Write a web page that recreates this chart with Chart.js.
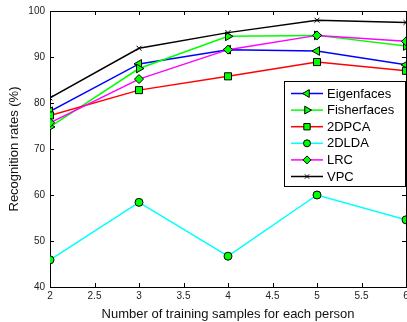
<!DOCTYPE html>
<html>
<head>
<meta charset="utf-8">
<script src="https://cdn.jsdelivr.net/npm/chart.js@4.4.0/dist/chart.umd.min.js"></script>
<style>
html, body { margin:0; padding:0; background:#fff; overflow:hidden; }
#wrap { position:relative; width:412px; height:322px; }
</style>
</head>
<body>
<div id="wrap"><canvas id="chart" width="412" height="322"></canvas></div>
<script>
// training samples per person
var samples = [2, 3, 4, 5, 6]

var eigenfaces = [78.2, 88.5, 91.6, 91.3, 88.3]
var fisherfaces = [74.8, 87.5, 94.5, 94.7, 92.4]
var dpca = [77.3, 82.8, 85.8, 88.9, 87.0]
var dlda = [45.9, 58.4, 46.7, 60.0, 54.6]
var lrc = [75.7, 85.2, 91.6, 94.7, 93.4]
var vpc = [81.1, 91.9, 95.3, 98.0, 97.5]

var xTicks = [2, 2.5, 3, 3.5, 4, 4.5, 5, 5.5, 6]
var yTicks = [40, 50, 60, 70, 80, 90, 100]

function pts(vals) {
    return vals.map((v, i) => ({ x: samples[i], y: v }))
}

function series(label, vals, color, style, rot, r) {
    return {
        label: label,
        data: pts(vals),
        borderColor: color,
        borderWidth: 1.5,
        pointStyle: style,
        rotation: rot,
        pointRadius: r,
        pointBackgroundColor: style == 'crossRot' ? '#000' : '#00ff00',
        pointBorderColor: '#000',
        pointBorderWidth: 1,
        tension: 0
    }
}

var datasets = [
    series('Eigenfaces', eigenfaces, '#0000ff', 'triangle', 270, 5),
    series('Fisherfaces', fisherfaces, '#00ff00', 'triangle', 90, 5),
    series('2DPCA', dpca, '#ff0000', 'rect', 0, 5),
    series('2DLDA', dlda, '#00ffff', 'circle', 0, 4),
    series('LRC', lrc, '#ff00ff', 'rectRot', 0, 4.5),
    series('VPC', vpc, '#000000', 'crossRot', 0, 3.5)
]
datasets.forEach((d, i) => d.order = datasets.length - i)

// box around the axes with inward ticks, matlab style
const boxTicks = {
    id: 'boxTicks',
    beforeDatasetsDraw(chart) {
        const ctx = chart.ctx, a = chart.chartArea, sx = chart.scales.x, sy = chart.scales.y
        ctx.save()
        ctx.strokeStyle = '#000'
        ctx.lineWidth = 1
        ctx.beginPath()
        xTicks.forEach(t => {
            let px = Math.round(sx.getPixelForValue(t)) + 0.5
            ctx.moveTo(px, a.bottom); ctx.lineTo(px, a.bottom - 4)
            ctx.moveTo(px, a.top); ctx.lineTo(px, a.top + 4)
        })
        yTicks.forEach(t => {
            let py = Math.round(sy.getPixelForValue(t)) + 0.5
            ctx.moveTo(a.left, py); ctx.lineTo(a.left + 4, py)
            ctx.moveTo(a.right, py); ctx.lineTo(a.right - 4, py)
        })
        ctx.stroke()
        ctx.strokeRect(Math.round(a.left) + 0.5, Math.round(a.top) + 0.5, Math.round(a.right - a.left), Math.round(a.bottom - a.top))
        ctx.restore()
    }
}

const boxLegend = {
    id: 'boxLegend',
    afterDraw(chart) {
        const ctx = chart.ctx
        const left = 284, top = 81, w = 121, h = 105
        ctx.save()
        ctx.fillStyle = '#fff'
        ctx.fillRect(left, top, w, h)
        ctx.strokeStyle = '#000'
        ctx.lineWidth = 1
        ctx.strokeRect(left + 0.5, top + 0.5, w, h)
        ctx.font = '13px "Liberation Sans", Arial, sans-serif'
        ctx.textBaseline = 'middle'
        chart.data.datasets.forEach((d, i) => {
            let y = top + 12.5 + i * 16.6
            ctx.strokeStyle = d.borderColor
            ctx.lineWidth = 1.5
            ctx.beginPath()
            ctx.moveTo(left + 7, y); ctx.lineTo(left + 39, y)
            ctx.stroke()
            ctx.fillStyle = d.pointBackgroundColor
            ctx.strokeStyle = d.pointBorderColor
            ctx.lineWidth = 1
            Chart.helpers.drawPoint(ctx, { pointStyle: d.pointStyle, rotation: d.rotation, radius: d.pointRadius - 0.5, borderWidth: 1 }, left + 23, y)
            ctx.fillStyle = '#000'
            ctx.fillText(d.label, left + 43, y + 0.5)
        })
        ctx.restore()
    }
}

new Chart(document.getElementById('chart'), {
    type: 'line',
    data: { datasets: datasets },
    plugins: [boxTicks, boxLegend],
    options: {
        responsive: false,
        animation: false,
        devicePixelRatio: 1,
        layout: { padding: { top: 9, right: 6, left: 0, bottom: 0 } },
        plugins: { legend: { display: false }, tooltip: { enabled: false } },
        scales: {
            x: {
                type: 'linear',
                min: 2, max: 6,
                afterFit(scale) { scale.height = 35 },
                afterBuildTicks(scale) { scale.ticks = xTicks.map(v => ({ value: v })) },
                grid: { display: false, drawTicks: false },
                border: { display: false },
                ticks: { padding: 3, color: '#222', callback: v => String(v), font: { family: '"Liberation Sans", Arial, sans-serif', size: 10 } },
                title: { display: true, text: 'Number of training samples for each person', color: '#111', padding: { top: 0, bottom: 0 }, font: { family: '"Liberation Sans", Arial, sans-serif', size: 13 } }
            },
            y: {
                min: 40, max: 100,
                afterFit(scale) { scale.width = 50 },
                afterBuildTicks(scale) { scale.ticks = yTicks.map(v => ({ value: v })) },
                grid: { display: false, drawTicks: false },
                border: { display: false },
                ticks: { padding: 5, color: '#222', callback: v => String(v), font: { family: '"Liberation Sans", Arial, sans-serif', size: 10 } },
                title: { display: true, text: 'Recognition rates (%)', color: '#111', padding: { top: 7, bottom: 0 }, font: { family: '"Liberation Sans", Arial, sans-serif', size: 13 } }
            }
        }
    }
})
</script>
</body>
</html>
